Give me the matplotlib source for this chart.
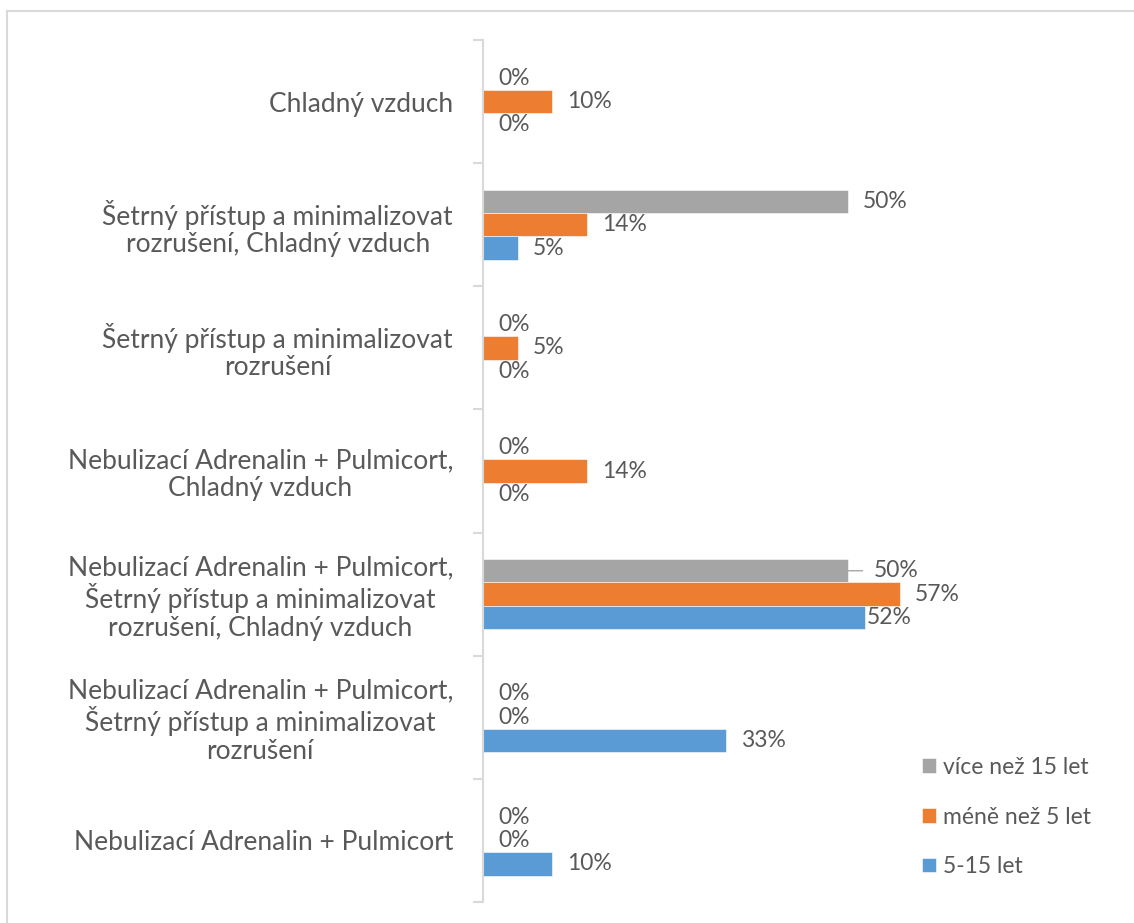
import matplotlib.pyplot as plt
from matplotlib.patches import Patch
from matplotlib.lines import Line2D
import numpy as np

# ---------------------------------------------------------------------------
# Data (percent of respondents per answer and experience group)
# ---------------------------------------------------------------------------
categories = [
    "Chladný vzduch",
    "Šetrný přístup a minimalizovat\nrozrušení, Chladný vzduch",
    "Šetrný přístup a minimalizovat\nrozrušení",
    "Nebulizací Adrenalin + Pulmicort,\nChladný vzduch",
    "Nebulizací Adrenalin + Pulmicort,\nŠetrný přístup a minimalizovat\nrozrušení, Chladný vzduch",
    "Nebulizací Adrenalin + Pulmicort,\nŠetrný přístup a minimalizovat\nrozrušení",
    "Nebulizací Adrenalin + Pulmicort",
]
series_names = ["více než 15 let", "méně než 5 let", "5-15 let"]
vice_15 = [0, 50, 0, 0, 50, 0, 0]
mene_5 = [9.52, 14.29, 4.76, 14.29, 57.14, 0, 0]
let_5_15 = [0, 4.76, 0, 0, 52.38, 33.33, 9.52]

COLORS = ["#A5A5A5", "#ED7D31", "#5B9BD5"]
TEXT = "#595959"
AXIS = "#D9D9D9"
FONT = "Lato"

plt.rcParams["font.family"] = FONT

fig = plt.figure(figsize=(11.34, 9.23), dpi=100)
W, H = 1134, 923
ax = fig.add_axes([483 / W, (H - 902) / H, (921 - 483) / W, (902 - 40) / H])

y = np.arange(len(categories))
bar_h = 0.19
offsets = [-bar_h, 0, bar_h]
all_series = [vice_15, mene_5, let_5_15]

for vals, off, color in zip(all_series, offsets, COLORS):
    ax.barh(y + off, vals, height=bar_h, color=color, edgecolor="white", linewidth=0.4)

# data labels (offset in points from bar end); a few were moved by hand in the original
label_shift = {(0, 4): 18.5, (2, 4): 0.7}
for si, (vals, off) in enumerate(zip(all_series, offsets)):
    for ci, v in enumerate(vals):
        dx = label_shift.get((si, ci), 10.8)
        kw = {}
        if (si, ci) == (0, 4):
            kw["arrowprops"] = dict(arrowstyle="-", color="#A5A5A5", lw=1,
                                    shrinkA=6, shrinkB=0, relpos=(0, 0.5))
        ax.annotate(f"{v:.0f}%", xy=(v, ci + off), xytext=(dx, 0),
                    textcoords="offset points", ha="left", va="center",
                    fontsize=16.5, color=TEXT, **kw)

ax.set_xlim(0, 60)
ax.set_ylim(len(categories) - 0.5, -0.5)

ax.set_yticks(y)
ax.set_yticklabels(categories, fontsize=19, color=TEXT, multialignment="center",
                   linespacing=1.12)
ax.tick_params(axis="y", which="major", length=0, pad=21.6)
ax.set_yticks(np.arange(len(categories) + 1) - 0.5, minor=True)
ax.tick_params(axis="y", which="minor", length=7.2, width=1.5, color=AXIS)

ax.xaxis.set_visible(False)
for side in ["top", "right", "bottom"]:
    ax.spines[side].set_visible(False)
ax.spines["left"].set_color(AXIS)
ax.spines["left"].set_linewidth(1.5)

# legend
handles = [Patch(facecolor=c, edgecolor="white", linewidth=0.4) for c in COLORS]
fig.legend(handles, series_names, loc="center left",
           bbox_to_anchor=(922 / W, (H - 817) / H), frameon=False,
           fontsize=16.5, labelcolor=TEXT, handlelength=0.6, handleheight=0.6,
           handletextpad=0.3, labelspacing=1.25, borderpad=0, borderaxespad=0)

# chart-area border (only left and top edges are visible in the crop)
fig.add_artist(Line2D([7 / W, 7 / W], [0, (H - 11) / H], color=AXIS, lw=1.5))
fig.add_artist(Line2D([7 / W, 1], [(H - 11) / H, (H - 11) / H], color=AXIS, lw=1.5))

fig.savefig("out.png", dpi=100)
